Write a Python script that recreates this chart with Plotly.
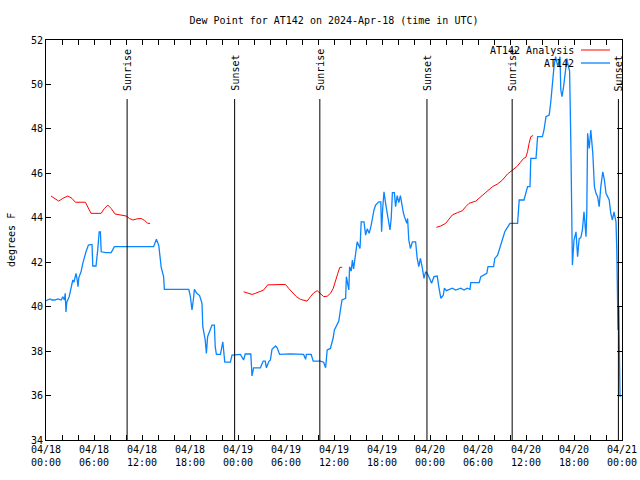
import datetime as dt
import plotly.graph_objects as go

# ---------------- data ----------------
BASE = dt.datetime(2024, 4, 18, 0, 0)

# AT142 observations: hours after 2024-04-18 00:00 UTC, dew point (F)
obs_hours = [0.0, 0.25, 0.5, 0.75, 1.1, 1.5, 1.9, 2.1, 2.3, 2.4, 2.5, 2.6, 2.9, 3.05, 3.35, 3.5, 3.75, 3.9,
             4.0, 4.1, 4.4, 4.6, 4.75, 5.0, 5.3, 5.75, 5.85, 6.25, 6.45, 6.65, 6.8, 6.9, 7.5, 8.15, 8.55,
             13.45, 13.8, 14.1, 14.4, 14.7, 14.8, 17.85, 18.05, 18.25, 18.45, 18.55, 18.85, 19.2, 19.5,
             19.6, 19.9, 20.05, 20.2, 20.4, 20.75, 21.05, 21.15, 21.3, 21.8, 22.1, 22.2, 22.35, 23.05,
             23.25, 24.3, 24.7, 24.9, 25.6, 25.75, 25.95, 26.8, 27.15, 27.4, 27.55, 27.85, 28.05, 28.25,
             28.7, 28.9, 29.2, 30.55, 31.4, 32.2, 32.45, 32.55, 33.15, 33.4, 34.3, 34.7, 34.95, 35.15,
             35.55, 35.9, 36.05, 36.3, 36.6, 36.8, 37.0, 37.45, 37.55, 37.85, 37.95, 38.15, 38.3, 38.45,
             38.7, 38.9, 39.25, 39.4, 39.75, 39.95, 40.15, 40.4, 40.65, 40.8, 41.0, 41.2, 41.6, 41.85,
             41.95, 42.1, 42.25, 42.45, 42.65, 42.85, 43.0, 43.15, 43.3, 43.55, 43.7, 43.9, 44.1, 44.3,
             44.5, 44.65, 44.8, 45.1, 45.2, 45.35, 45.55, 45.8, 46.2, 46.4, 46.6, 46.8, 47.05, 47.25,
             47.45, 47.65, 47.95, 48.2, 48.5, 48.9, 49.1, 49.35, 49.65, 49.8, 50.05, 50.8, 51.2, 51.85,
             52.25, 52.65, 53.0, 53.1, 54.15, 54.35, 55.1, 55.25, 55.95, 56.1, 56.45, 56.65, 56.85,
             57.05, 57.35, 57.6, 58.0, 58.95, 59.15, 59.75, 59.95, 60.2, 60.5, 60.6, 61.25, 61.45, 62.05,
             62.25, 62.5, 62.9, 63.1, 63.3, 63.5, 63.7, 63.98, 64.25, 64.35, 64.5, 64.7, 65.0, 65.1,
             65.3, 65.45, 65.6, 65.7, 65.8, 66.0, 66.25, 66.45, 66.65, 66.85, 67.05, 67.25, 67.5, 67.6,
             67.7, 67.9, 68.1, 68.35, 68.45, 68.55, 68.75, 68.95, 69.15, 69.35, 69.6, 69.8, 70.0, 70.2,
             70.4, 70.6, 70.8, 71.0, 71.25, 71.35, 71.45, 71.5, 71.6, 71.65, 71.75, 71.85]
obs_values = [40.27, 40.3, 40.35, 40.3, 40.3, 40.35, 40.3, 40.45, 40.3, 40.6, 39.76, 40.2, 40.45, 40.7,
              41.2, 41.1, 41.5, 41.2, 40.9, 41.3, 41.6, 41.95, 42.2, 42.47, 42.77, 42.8, 41.83, 41.83,
              42.5, 43.37, 43.37, 42.47, 42.43, 42.43, 42.7, 42.7, 43.03, 42.75, 41.77, 41.35, 40.78,
              40.78, 40.45, 39.85, 40.4, 40.78, 40.6, 40.5, 40.15, 39.1, 38.5, 37.9, 38.65, 38.87, 39.17,
              39.17, 38.2, 37.85, 37.85, 38.42, 38.05, 37.5, 37.5, 37.82, 37.85, 37.6, 37.87, 37.87,
              36.88, 37.25, 37.25, 37.55, 37.55, 37.25, 37.53, 37.6, 38.08, 38.23, 38.15, 37.85, 37.88,
              37.85, 37.85, 37.63, 37.85, 37.85, 37.55, 37.55, 37.5, 37.25, 38.05, 38.12, 38.6, 38.95,
              39.17, 39.35, 39.85, 40.3, 40.38, 41.35, 40.75, 41.8, 41.6, 42.1, 41.7, 42.55, 42.92, 42.62,
              43.82, 43.82, 43.22, 43.5, 43.3, 43.67, 43.97, 44.35, 44.57, 44.72, 44.72, 43.37, 44.5,
              45.17, 44.65, 44.27, 43.82, 43.45, 43.97, 45.13, 45.13, 44.5, 45.0, 44.68, 45.0, 44.5,
              44.27, 44.05, 43.75, 43.97, 43.0, 42.62, 42.92, 42.92, 42.17, 41.8, 42.17, 41.72, 41.27,
              41.57, 41.5, 41.27, 41.05, 41.35, 41.38, 40.9, 40.38, 40.5, 40.83, 40.72, 40.83, 40.75,
              40.83, 40.75, 40.83, 40.78, 41.08, 41.08, 41.35, 41.5, 41.8, 41.8, 42.17, 42.32, 42.55,
              42.85, 43.07, 43.37, 43.52, 43.75, 43.75, 44.8, 44.8, 45.1, 45.4, 45.4, 46.67, 46.67, 47.65,
              47.65, 47.95, 48.55, 48.62, 49.22, 50.12, 50.8, 51.25, 50.8, 51.25, 49.75, 49.45, 49.9,
              50.8, 51.17, 50.8, 50.6, 47.5, 43.75, 41.87, 43.0, 43.37, 42.25, 43.07, 43.1, 43.45, 44.27,
              43.15, 44.27, 47.8, 47.12, 47.95, 46.9, 46.3, 45.4, 45.1, 44.95, 44.5, 45.4, 46.07, 45.7,
              45.1, 44.95, 44.8, 44.2, 43.9, 44.27, 43.82, 42.55, 40.9, 38.95, 40.0, 37.0, 35.95, 36.0]

# AT142 Analysis (None separates the three runs)
ana_hours = [0.63, 1.04, 1.59, 2.09, 2.72, 3.26, 3.67, 4.92, 5.22, 5.63, 6.89, 7.3, 7.73, 8.14, 8.64,
             9.27, 10.02, 10.43, 10.86, 11.36, 11.9, 12.31, 12.73, 13.02, None,
             24.7, 25.17, 25.76, 26.17, 26.8, 27.21, 27.71, 28.89, 29.51, 29.93, 30.34, 30.77, 31.3,
             31.8, 32.64, 33.06, 33.47, 33.9, 34.4, 34.72, 35.15, 35.56, 35.9, 36.19, 36.48, 36.73,
             37.03, None,
             48.8, 49.34, 49.96, 50.38, 50.8, 51.43, 52.05, 52.47, 52.88, 53.72, 54.35, 54.77, 55.39,
             55.81, 56.44, 57.06, 57.69, 58.31, 58.85, 59.27, 59.69, 59.98, 60.19, 60.39, 60.6, 60.89]
ana_values = [44.98, 44.87, 44.75, 44.87, 44.98, 44.87, 44.7, 44.7, 44.5, 44.2, 44.2, 44.42, 44.57,
              44.42, 44.17, 44.13, 44.08, 43.97, 43.9, 43.95, 43.97, 43.88, 43.75, 43.75, None,
              40.67, 40.62, 40.55, 40.6, 40.67, 40.75, 40.98, 40.98, 41.0, 41.0, 40.82, 40.67, 40.45,
              40.33, 40.25, 40.45, 40.62, 40.72, 40.55, 40.45, 40.47, 40.6, 40.82, 41.2, 41.5, 41.77,
              41.77, None,
              43.57, 43.63, 43.75, 43.93, 44.13, 44.23, 44.32, 44.5, 44.65, 44.75, 44.95, 45.1, 45.28,
              45.4, 45.52, 45.7, 45.97, 46.15, 46.3, 46.48, 46.67, 46.72, 46.97, 47.35, 47.65, 47.7]

# sun events (hours after start) and their labels
sun_hours = [10.14, 23.58, 34.23, 47.62, 58.27, 71.55]
sun_labels = ["Sunrise", "Sunset", "Sunrise", "Sunset", "Sunrise", "Sunset"]

series_names = ["AT142 Analysis", "AT142"]
series_colors = ["#ff0000", "#0a84ff"]

TITLE = "Dew Point for AT142 on 2024-Apr-18 (time in UTC)"
YLABEL = "degrees F"


def to_time(h):
    return None if h is None else BASE + dt.timedelta(hours=h)


FONT = dict(family="DejaVu Sans Mono, Liberation Mono, monospace", size=10, color="black")
PW = 576.0  # plot width in px (for paper-ref decorations)
PH = 400.0

fig = go.Figure()
fig.add_trace(go.Scatter(x=[to_time(h) for h in ana_hours], y=ana_values, mode="lines",
                         line=dict(color=series_colors[0], width=1), name=series_names[0],
                         connectgaps=False, showlegend=False))
fig.add_trace(go.Scatter(x=[to_time(h) for h in obs_hours], y=obs_values, mode="lines",
                         line=dict(color=series_colors[1], width=1.3), name=series_names[1],
                         showlegend=False))

for h, lab in zip(sun_hours, sun_labels):
    t = to_time(h)
    fig.add_shape(type="line", xref="x", yref="paper", x0=t, x1=t, y0=0, y1=1 - 59 / PH,
                  line=dict(color="black", width=1))
    fig.add_annotation(x=t, xref="x", y=1 - 52 / PH, yref="paper", text=lab, textangle=-90,
                       showarrow=False, xanchor="center", yanchor="bottom", font=FONT,
                       borderpad=0)

# legend drawn gnuplot-style (text on the left, sample line on the right)
for i, (name, col) in enumerate(zip(series_names, series_colors)):
    yp = 1 - (10 + 13 * i) / PH
    fig.add_annotation(x=(575 - 46) / PW, xref="paper", y=yp, yref="paper", text=name,
                       showarrow=False, xanchor="right", yanchor="middle", font=FONT, borderpad=0)
    fig.add_shape(type="line", xref="paper", yref="paper", x0=(581 - 46) / PW, x1=(610 - 46) / PW,
                  y0=yp, y1=yp, line=dict(color=col, width=1.3 if i else 1))

# y-axis label
fig.add_annotation(x=(11 - 46) / PW, xref="paper", y=0.5, yref="paper", text=YLABEL,
                   textangle=-90, showarrow=False, xanchor="center", yanchor="middle", font=FONT)

fig.update_layout(
    width=640, height=480,
    margin=dict(l=46, r=18, t=40, b=40, autoexpand=False),
    paper_bgcolor="white", plot_bgcolor="white",
    font=FONT,
    hovermode=False,
    title=dict(text=TITLE, x=0.5, xref="paper", y=1 - 20 / 480, yanchor="middle", font=FONT),
    xaxis=dict(type="date", range=[BASE, BASE + dt.timedelta(hours=72)], automargin=False,
               dtick=6 * 3600 * 1000, tick0=BASE, tickformat="%m/%d<br>%H:%M",
               ticks="inside", ticklen=5, tickcolor="black", showgrid=False, zeroline=False,
               showline=True, linecolor="black", linewidth=1, mirror="allticks",
               minor=dict(dtick=2 * 3600 * 1000, ticks="inside", ticklen=5, tickcolor="black",
                          showgrid=False),
               tickfont=FONT),
    yaxis=dict(range=[34, 52], dtick=2, ticks="inside", ticklen=5, tickcolor="black",
               automargin=False,
               showgrid=False, zeroline=False, showline=True, linecolor="black", linewidth=1,
               mirror="allticks", tickfont=FONT),
)

# remove the browser's default 8px page margin so the 640x480 figure fills the window
fig.write_html("out.html",
               config={"displayModeBar": False, "staticPlot": True},
               post_script="document.body.style.margin='0';"
                           "document.documentElement.style.overflow='hidden';")
